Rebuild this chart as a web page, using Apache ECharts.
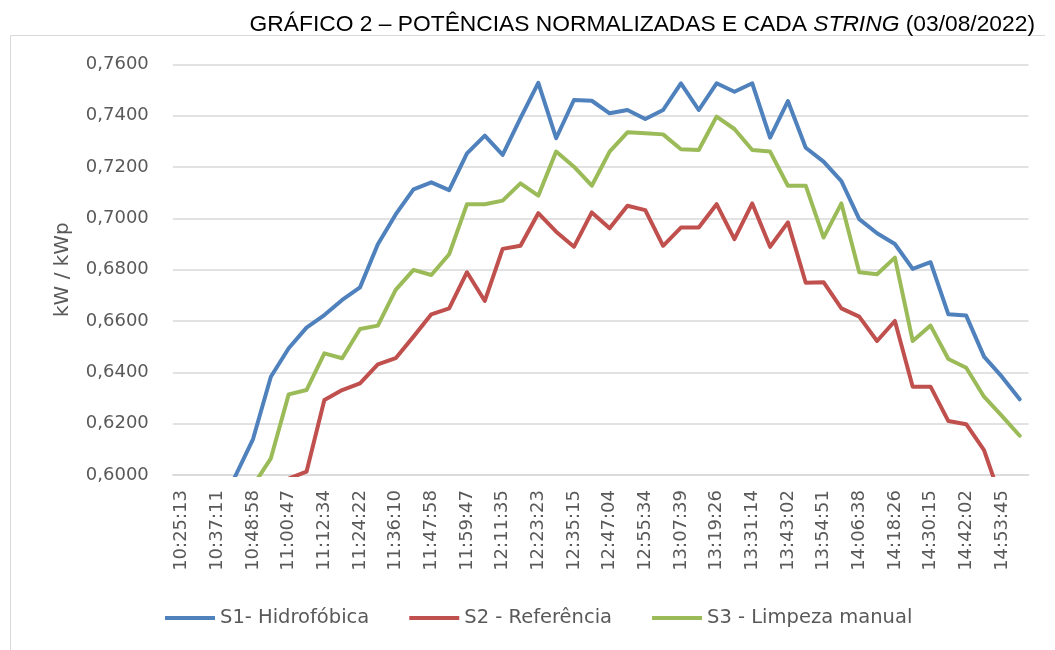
<!DOCTYPE html>
<html>
<head>
<meta charset="utf-8">
<script src="https://cdn.jsdelivr.net/npm/echarts@6/dist/echarts.min.js"></script>
<style>
html,body{margin:0;padding:0;background:#fff;}
#chart{width:1055px;height:650px;}
</style>
</head>
<body>
<div id="chart"></div>
<script>
const categories = [
  '10:25:13','10:31:12','10:37:11','10:43:05','10:48:58','10:54:52','11:00:47','11:06:41',
  '11:12:34','11:18:28','11:24:22','11:30:16','11:36:10','11:42:04','11:47:58','11:53:52',
  '11:59:47','12:05:41','12:11:35','12:17:29','12:23:23','12:29:19','12:35:15','12:41:10',
  '12:47:04','12:51:19','12:55:34','13:01:36','13:07:39','13:13:32','13:19:26','13:25:20',
  '13:31:14','13:37:08','13:43:02','13:48:56','13:54:51','14:00:44','14:06:38','14:12:32',
  '14:18:26','14:24:20','14:30:15','14:36:08','14:42:02','14:47:53','14:53:45','14:59:38'
];
const s1Name = 'S1- Hidrofóbica';
const s2Name = 'S2 - Referência';
const s3Name = 'S3 - Limpeza manual';
const s1 = [0.555,0.570,0.584,0.5995,0.614,0.6383,0.6494,0.6574,0.6623,0.6682,0.6731,0.6899,
  0.7015,0.7113,0.7140,0.7110,0.7253,0.7322,0.7247,0.7390,0.7528,0.7312,0.7461,0.7458,
  0.7409,0.7422,0.7387,0.7422,0.7526,0.7422,0.7526,0.7493,0.7526,0.7314,0.7457,0.7275,
  0.7221,0.7145,0.6997,0.6942,0.6900,0.6803,0.6829,0.6626,0.6621,0.6461,0.6383,0.6295];
const s2 = [0.535,0.545,0.555,0.566,0.577,0.588,0.5986,0.6013,0.6292,0.6331,0.6357,0.6431,
  0.6455,0.6539,0.6626,0.6649,0.6790,0.6678,0.6881,0.6893,0.7020,0.6948,0.6889,0.7023,
  0.6961,0.7049,0.7032,0.6893,0.6964,0.6964,0.7055,0.6919,0.7058,0.6889,0.6984,0.6749,
  0.6751,0.6649,0.6617,0.6522,0.6600,0.6344,0.6344,0.6210,0.6198,0.6097,0.5896,0.575];
const s3 = [0.548,0.560,0.572,0.584,0.5958,0.6065,0.6314,0.6331,0.6474,0.6455,0.6569,0.6582,
  0.6721,0.6799,0.6779,0.6860,0.7055,0.7055,0.7069,0.7136,0.7088,0.7260,0.7201,0.7127,
  0.7260,0.7335,0.7331,0.7327,0.7269,0.7266,0.7396,0.7348,0.7266,0.7260,0.7127,0.7127,
  0.6925,0.7058,0.6790,0.6782,0.6847,0.6522,0.6582,0.6452,0.6418,0.6305,0.6230,0.6153];
const yMin = 0.60, yMax = 0.76, yStep = 0.02;
const titleMain = 'GRÁFICO 2 – POTÊNCIAS NORMALIZADAS E CADA ';
const titleItalic = 'STRING';
const titleEnd = ' (03/08/2022)';
const yAxisName = 'kW / kWp';

const chart = echarts.init(document.getElementById('chart'), null, {renderer: 'canvas'});
const axisFont = 'DejaVu Sans';
const txtColor = '#595959';
const mk = (name, data, color) => ({
  name, type: 'line', data, symbol: 'none', clip: true,
  lineStyle: {color, width: 4, cap: 'round', join: 'round'},
  itemStyle: {color}
});
chart.setOption({
  animation: false,
  backgroundColor: '#fff',
  title: {
    text: '{a|' + titleMain + '}{b|' + titleItalic + '}{a|' + titleEnd + '}',
    right: 15, top: 8,
    textStyle: {
      fontWeight: 'normal',
      rich: {
        a: {fontFamily: 'Liberation Sans', fontSize: 22.8, color: '#000', fontWeight: 'normal'},
        b: {fontFamily: 'Liberation Sans', fontSize: 22.8, color: '#000', fontWeight: 'normal', fontStyle: 'italic'}
      }
    }
  },
  graphic: [{
    type: 'polyline',
    shape: {points: [[10.5, 650], [10.5, 35.5], [1045, 35.5]]},
    style: {stroke: '#d9d9d9', lineWidth: 1, fill: null},
    silent: true
  }],
  legend: {
    left: 160, top: 603,
    icon: 'rect', itemWidth: 50, itemHeight: 4, itemGap: 40,
    textStyle: {fontFamily: axisFont, fontSize: 19.5, color: txtColor},
    data: [s1Name, s2Name, s3Name]
  },
  grid: {left: 172.8, right: 26.4, top: 64.3, bottom: 175, containLabel: false},
  xAxis: {
    type: 'category', data: categories, boundaryGap: true,
    axisLine: {show: true, lineStyle: {color: '#d9d9d9', width: 1.5}},
    axisTick: {show: false},
    axisLabel: {interval: 1, rotate: 90, margin: 15, fontFamily: axisFont, fontSize: 18, color: txtColor}
  },
  yAxis: {
    type: 'value', min: yMin, max: yMax, interval: yStep,
    name: yAxisName, nameLocation: 'middle', nameGap: 100,
    nameTextStyle: {fontFamily: axisFont, fontSize: 20, color: txtColor},
    axisLine: {show: false}, axisTick: {show: false},
    splitLine: {show: true, lineStyle: {color: '#d9d9d9', width: 1.5}},
    axisLabel: {margin: 24, fontFamily: axisFont, fontSize: 18, color: txtColor,
      formatter: v => v.toFixed(4).replace('.', ',')}
  },
  series: [mk(s1Name, s1, '#4F81BD'), mk(s2Name, s2, '#C0504D'), mk(s3Name, s3, '#9BBB59')]
});
</script>
</body>
</html>
